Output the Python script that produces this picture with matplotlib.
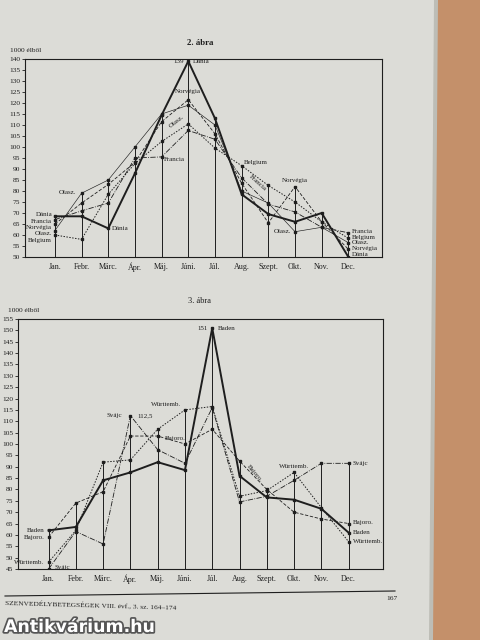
import matplotlib
matplotlib.use("Agg")
import matplotlib.pyplot as plt
from matplotlib.patches import Polygon
import matplotlib.patheffects as pe

plt.rcParams['font.family'] = ['Liberation Serif', 'DejaVu Serif']

months = ["Jan.", "Febr.", "Márc.", "Ápr.", "Máj.", "Júni.", "Júl.", "Aug.",
          "Szept.", "Okt.", "Nov.", "Dec."]

# 2. ábra (1000 élből)
dania = [68.5, 68.5, 63, 88, 114.5, 139, 113, 78.5, 69.5, 66, 70, 50]
francia = [67, 71, 74.5, 95, 95.5, 107.5, 103.5, 86, 74, 70.5, 63.5, 61]
norvegia = [65, 74.5, 83, 93, 111.5, 121.5, 106, 83.5, 65.5, 82, 66, 53.5]
olasz = [62, 79, 85, 100, 115, 119, 110, 80, 74.5, 61.5, 63.5, 56.5]
belgium = [60, 58, 78.5, 92.5, 102.5, 110.5, 99.5, 91.5, 82.5, 75, 66, 58.5]
yticks1 = list(range(50, 141, 5))

# 3. ábra (1000 élből)
baden = [62, 63.5, 84, 87.5, 92, 88.5, 151, 86, 76.5, 75.5, 71.5, 61]
bajor = [59, 74, 79, 103.5, 103.5, 100, 106.5, 92.5, 80, 70, 67, 65]
wurtt = [48, 62, 92, 93, 106.5, 115, 116.5, 77, 79.5, 87.5, 72, 57]
svajc = [45, 61.5, 56, 112.5, 97.5, 91.5, 116, 74.5, 77, 84, 91.5, 91.5]
yticks2 = list(range(45, 156, 5))

W, H = 480, 640
page = "#dcdcd7"
ink = "#1e1e1e"

fig = plt.figure(figsize=(W / 100, H / 100), dpi=100)
fig.patch.set_facecolor(page)

def fx(px):
    return px / W

def fy(py):
    return 1 - py / H

# wooden table strip at right edge
fig.patches.append(Polygon([[fx(437), fy(0)], [1, fy(0)], [1, fy(640)], [fx(432), fy(640)]],
                           closed=True, transform=fig.transFigure,
                           facecolor="#c4906a", edgecolor="none", zorder=0))
fig.patches.append(Polygon([[fx(434), fy(0)], [fx(438), fy(0)], [fx(433), fy(640)], [fx(429), fy(640)]],
                           closed=True, transform=fig.transFigure,
                           facecolor="#bdbdb6", edgecolor="none", zorder=0))

x = list(range(12))


def setup(ax, ylim, yticks):
    ax.set_facecolor("none")
    ax.set_xlim(-1.12, 11 + 1.26)
    ax.set_ylim(*ylim)
    ax.set_yticks(yticks)
    ax.set_yticklabels([str(v) for v in yticks], fontsize=5.3, color=ink)
    ax.set_xticks(x)
    ax.set_xticklabels(months, fontsize=5.8, color=ink)
    ax.tick_params(axis='y', direction='out', length=2.5, width=0.6, pad=1, colors=ink)
    ax.tick_params(axis='x', length=0, pad=4, colors=ink)
    for s in ax.spines.values():
        s.set_linewidth(0.8)
        s.set_color(ink)


def draw(ax, series, styles, lo):
    tops = [max(vals) for vals in zip(*series)]
    ax.vlines(x, lo, tops, colors=ink, linewidth=0.7, zorder=1)
    for vals, (ls, lw) in zip(series, styles):
        ax.plot(x, vals, linestyle=ls, linewidth=lw, color=ink, marker='s',
                markersize=1.8, zorder=3)


# ---------- 2. ábra ----------
ax1 = fig.add_axes([fx(25), fy(257), fx(382) - fx(25), fy(59) - fy(257)])
setup(ax1, (50, 140), yticks1)
draw(ax1, [dania, francia, norvegia, olasz, belgium],
     [('-', 1.4), ('-.', 0.6), ((0, (4, 2)), 0.6), ('-', 0.45), ((0, (1.5, 1.5)), 0.7)], 50)

fs = 5.0
t = dict(fontsize=fs, color=ink)
ax1.text(4.82, dania[5], "139", ha='right', va='center', **t)
ax1.text(5.18, dania[5], "Dánia", ha='left', va='center', **t)
ax1.text(5.0, norvegia[5] + 2.5, "Norvégia", ha='center', va='bottom', **t)
ax1.text(4.55, 111.5, "Olasz.", ha='center', va='center', rotation=38, **t)
ax1.text(4.1, 94.2, "Francia", ha='left', va='center', **t)
ax1.text(0.8, olasz[1] + 0.5, "Olasz.", ha='right', va='center', **t)
ax1.text(2.15, dania[2], "Dánia", ha='left', va='center', **t)
jan_labels = [("Dánia", 69.5), ("Francia", 66.3), ("Norvégia", 63.4), ("Olasz.", 60.6), ("Belgium", 57.5)]
for name, yy in jan_labels:
    ax1.text(-0.1, yy, name, ha='right', va='center', **t)
ax1.text(7.1, belgium[7] + 0.3, "Belgium", ha='left', va='bottom', **t)
ax1.text(7.6, 83.8, "Francia", ha='center', va='center', rotation=-42, **t)
ax1.text(9.0, norvegia[9] + 1.5, "Norvégia", ha='center', va='bottom', **t)
ax1.text(8.85, olasz[9], "Olasz.", ha='right', va='center', **t)
dec_labels = [("Francia", 61.8), ("Belgium", 59.0), ("Olasz.", 56.4), ("Norvégia", 53.8), ("Dánia", 51.2)]
for name, yy in dec_labels:
    ax1.text(11.12, yy, name, ha='left', va='center', **t)

fig.text(fx(200), fy(43), "2. ábra", ha='center', va='center', fontsize=6.3,
         fontweight='bold', color=ink)
fig.text(fx(10), fy(50), "1000 élből", ha='left', va='center', fontsize=5.3, color=ink)

# ---------- 3. ábra ----------
ax2 = fig.add_axes([fx(18), fy(569), fx(383) - fx(18), fy(319) - fy(569)])
setup(ax2, (45, 155), yticks2)
draw(ax2, [baden, bajor, wurtt, svajc],
     [('-', 1.4), ((0, (4, 2)), 0.6), ((0, (1.5, 1.5)), 0.7), ('-.', 0.6)], 45)

ax2.text(5.85, baden[6], "151", ha='right', va='center', **t)
ax2.text(6.2, baden[6], "Baden", ha='left', va='center', **t)
ax2.text(2.7, svajc[3], "Svájc", ha='right', va='center', **t)
ax2.text(3.25, svajc[3], "112,5", ha='left', va='center', **t)
ax2.text(4.85, wurtt[5] + 1.3, "Württemb.", ha='right', va='bottom', **t)
ax2.text(4.25, 102.5, "Bajoro.", ha='left', va='center', **t)
ax2.text(-0.15, baden[0], "Baden", ha='right', va='center', **t)
ax2.text(-0.15, bajor[0], "Bajoro.", ha='right', va='center', **t)
ax2.text(-0.15, wurtt[0], "Württemb.", ha='right', va='center', **t)
ax2.text(0.2, svajc[0] + 0.7, "Svájc", ha='left', va='center', **t)
ax2.text(7.55, 87, "Bajoro.", ha='center', va='center', rotation=-50, **t)
ax2.text(9.0, wurtt[9] + 1.5, "Württemb.", ha='center', va='bottom', **t)
ax2.text(11.15, svajc[11], "Svájc", ha='left', va='center', **t)
ax2.text(11.15, bajor[11] + 0.5, "Bajoro.", ha='left', va='center', **t)
ax2.text(11.15, baden[11], "Baden", ha='left', va='center', **t)
ax2.text(11.15, wurtt[11], "Württemb.", ha='left', va='center', **t)

fig.text(fx(200), fy(301), "3. ábra", ha='center', va='center', fontsize=6.0, color=ink)
fig.text(fx(8), fy(310), "1000 élből", ha='left', va='center', fontsize=5.3, color=ink)

# ---------- footer ----------
fig.add_artist(plt.Line2D([fx(5), fx(395)], [fy(596), fy(591)], transform=fig.transFigure,
                          color=ink, linewidth=0.8))
fig.text(fx(392), fy(599), "167", ha='center', va='center', fontsize=5.3, color=ink)
fig.text(fx(5), fy(606), "SZENVEDÉLYBETEGSÉGEK VIII. évf., 3. sz. 164–174", ha='left',
         va='center', fontsize=5.3, color=ink, rotation=-1.6)
fig.text(fx(4), fy(627), "Antikvárium.hu", ha='left', va='center', fontsize=12.5,
         fontweight='bold', color='white', family=['DejaVu Sans'],
         path_effects=[pe.withStroke(linewidth=2.5, foreground='#555555')])

fig.savefig("out.png", dpi=100, facecolor=fig.get_facecolor())
